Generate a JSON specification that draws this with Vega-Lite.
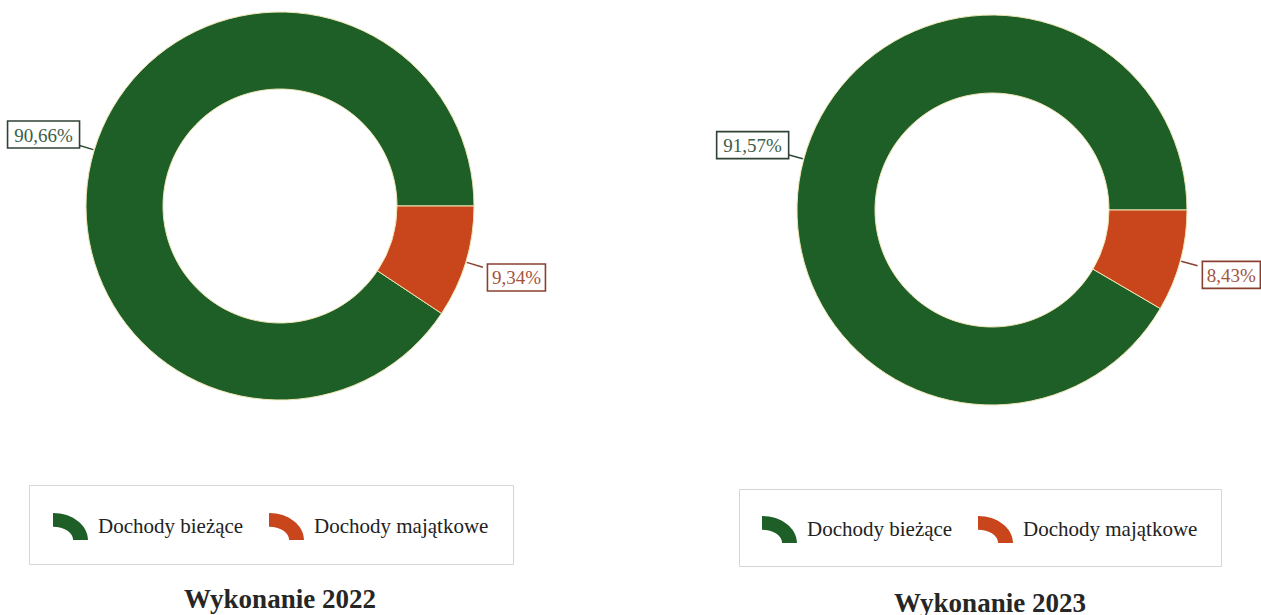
{
  "$schema": "https://vega.github.io/schema/vega-lite/v6.json",
  "padding": 0,
  "background": "white",
  "bounds": "flush",
  "spacing": 163,
  "config": {"view": {"stroke": null}, "font": "Liberation Serif"},
  "resolve": {
    "scale": {"color": "independent", "x": "independent", "y": "independent", "theta": "independent"},
    "legend": {"color": "independent"}
  },
  "hconcat": [
    {
      "width": 560,
      "height": 412,
      "title": {"text": "Wykonanie 2022", "orient": "bottom", "frame": "group", "anchor": "middle", "offset": 22, "baseline": "top", "font": "Liberation Serif", "fontSize": 27, "fontWeight": "bold", "color": "#262626"},
      "data": {"values": [
        {"kat": "Dochody bieżące", "val": 90.66, "label": "90,66%"},
        {"kat": "Dochody majątkowe", "val": 9.34, "label": "9,34%"}
      ]},
      "transform": [
        {"joinaggregate": [{"op": "sum", "field": "val", "as": "total"}]},
        {"window": [{"op": "sum", "field": "val", "as": "cum"}], "sort": [{"field": "kat", "order": "descending"}]},
        {"calculate": "PI/2 + 2*PI*(datum.cum - datum.val/2)/datum.total", "as": "mid"},
        {"calculate": "247*sin(datum.mid)", "as": "lx"},
        {"calculate": "247*cos(datum.mid)", "as": "ly"},
        {"calculate": "195*sin(datum.mid)", "as": "l0x"},
        {"calculate": "195*cos(datum.mid)", "as": "l0y"},
        {"calculate": "212*sin(datum.mid)", "as": "l1x"},
        {"calculate": "212*cos(datum.mid)", "as": "l1y"},
        {"calculate": "7*length(datum.label) - 6", "as": "hw"},
        {"calculate": "datum.lx - datum.hw", "as": "bx1"},
        {"calculate": "datum.lx + datum.hw", "as": "bx2"},
        {"calculate": "datum.ly - 13.5", "as": "by1"},
        {"calculate": "datum.ly + 13.5", "as": "by2"}
      ],
      "layer": [
        {
          "mark": {"type": "arc", "outerRadius": 194, "innerRadius": 117, "stroke": "#efe6b4", "strokeWidth": 1},
          "encoding": {
            "theta": {"field": "val", "type": "quantitative", "stack": true, "scale": {"range": [1.5707963, 7.8539816]}},
            "order": {"field": "kat", "type": "nominal", "sort": "descending"},
            "color": {
              "field": "kat", "type": "nominal",
              "scale": {"domain": ["Dochody bieżące", "Dochody majątkowe"], "range": ["#1e5f27", "#c9451b"]},
              "legend": {"orient": "none", "legendX": 29, "legendY": 485, "direction": "horizontal", "title": null,
                "symbolType": "M -1 -0.77 A 2 1.54 0 0 1 1 0.77 L 0.15 0.77 A 1.15 0.75 0 0 0 -1 0.02 Z",
                "symbolSize": 1225, "symbolStrokeWidth": 0, "symbolOpacity": 1,
                "labelFont": "Liberation Serif", "labelFontSize": 21, "labelColor": "#222222", "labelOffset": 10, "labelLimit": 400,
                "columnPadding": 25, "padding": 24, "strokeColor": "#d6d6d6", "fillColor": "white"}
            }
          }
        },
        {
          "mark": {"type": "rule", "strokeWidth": 1.5},
          "encoding": {
            "x": {"field": "l0x", "type": "quantitative", "scale": {"domain": [-280, 280], "nice": false, "zero": false}, "axis": null},
            "y": {"field": "l0y", "type": "quantitative", "scale": {"domain": [-206, 206], "nice": false, "zero": false}, "axis": null},
            "x2": {"field": "l1x"},
            "y2": {"field": "l1y"},
            "color": {"condition": {"test": "datum.kat === 'Dochody bieżące'", "value": "#2f4a36"}, "value": "#8a4030"}
          }
        },
        {
          "mark": {"type": "rect", "fill": "white", "strokeWidth": 1.6},
          "encoding": {
            "x": {"field": "bx1", "type": "quantitative"},
            "x2": {"field": "bx2"},
            "y": {"field": "by1", "type": "quantitative"},
            "y2": {"field": "by2"},
            "stroke": {"condition": {"test": "datum.kat === 'Dochody bieżące'", "value": "#2f4236"}, "value": "#8a4030"}
          }
        },
        {
          "mark": {"type": "text", "align": "center", "baseline": "middle", "font": "Liberation Serif", "fontSize": 19, "dy": 1},
          "encoding": {
            "x": {"field": "lx", "type": "quantitative"},
            "y": {"field": "ly", "type": "quantitative"},
            "text": {"field": "label", "type": "nominal"},
            "color": {"condition": {"test": "datum.kat === 'Dochody bieżące'", "value": "#3d5e48"}, "value": "#a4533c"}
          }
        }
      ]
    },
    {
      "width": 538,
      "height": 420,
      "title": {"text": "Wykonanie 2023", "orient": "bottom", "frame": "group", "anchor": "middle", "offset": 24, "baseline": "top", "font": "Liberation Serif", "fontSize": 27, "fontWeight": "bold", "color": "#262626", "dx": -2},
      "data": {"values": [
        {"kat": "Dochody bieżące", "val": 91.57, "label": "91,57%"},
        {"kat": "Dochody majątkowe", "val": 8.43, "label": "8,43%"}
      ]},
      "transform": [
        {"joinaggregate": [{"op": "sum", "field": "val", "as": "total"}]},
        {"window": [{"op": "sum", "field": "val", "as": "cum"}], "sort": [{"field": "kat", "order": "descending"}]},
        {"calculate": "PI/2 + 2*PI*(datum.cum - datum.val/2)/datum.total", "as": "mid"},
        {"calculate": "248*sin(datum.mid)", "as": "lx"},
        {"calculate": "248*cos(datum.mid)", "as": "ly"},
        {"calculate": "196*sin(datum.mid)", "as": "l0x"},
        {"calculate": "196*cos(datum.mid)", "as": "l0y"},
        {"calculate": "213*sin(datum.mid)", "as": "l1x"},
        {"calculate": "213*cos(datum.mid)", "as": "l1y"},
        {"calculate": "7*length(datum.label) - 6", "as": "hw"},
        {"calculate": "datum.lx - datum.hw", "as": "bx1"},
        {"calculate": "datum.lx + datum.hw", "as": "bx2"},
        {"calculate": "datum.ly - 13.5", "as": "by1"},
        {"calculate": "datum.ly + 13.5", "as": "by2"}
      ],
      "layer": [
        {
          "mark": {"type": "arc", "outerRadius": 195, "innerRadius": 117, "stroke": "#efe6b4", "strokeWidth": 1},
          "encoding": {
            "theta": {"field": "val", "type": "quantitative", "stack": true, "scale": {"range": [1.5707963, 7.8539816]}},
            "order": {"field": "kat", "type": "nominal", "sort": "descending"},
            "color": {
              "field": "kat", "type": "nominal",
              "scale": {"domain": ["Dochody bieżące", "Dochody majątkowe"], "range": ["#1e5f27", "#c9451b"]},
              "legend": {"orient": "none", "legendX": 16, "legendY": 489, "direction": "horizontal", "title": null,
                "symbolType": "M -1 -0.77 A 2 1.54 0 0 1 1 0.77 L 0.15 0.77 A 1.15 0.75 0 0 0 -1 0.02 Z",
                "symbolSize": 1225, "symbolStrokeWidth": 0, "symbolOpacity": 1,
                "labelFont": "Liberation Serif", "labelFontSize": 21, "labelColor": "#222222", "labelOffset": 10, "labelLimit": 400,
                "columnPadding": 25, "padding": 23, "strokeColor": "#d6d6d6", "fillColor": "white"}
            }
          }
        },
        {
          "mark": {"type": "rule", "strokeWidth": 1.5},
          "encoding": {
            "x": {"field": "l0x", "type": "quantitative", "scale": {"domain": [-269, 269], "nice": false, "zero": false}, "axis": null},
            "y": {"field": "l0y", "type": "quantitative", "scale": {"domain": [-210, 210], "nice": false, "zero": false}, "axis": null},
            "x2": {"field": "l1x"},
            "y2": {"field": "l1y"},
            "color": {"condition": {"test": "datum.kat === 'Dochody bieżące'", "value": "#2f4a36"}, "value": "#8a4030"}
          }
        },
        {
          "mark": {"type": "rect", "fill": "white", "strokeWidth": 1.6},
          "encoding": {
            "x": {"field": "bx1", "type": "quantitative"},
            "x2": {"field": "bx2"},
            "y": {"field": "by1", "type": "quantitative"},
            "y2": {"field": "by2"},
            "stroke": {"condition": {"test": "datum.kat === 'Dochody bieżące'", "value": "#2f4236"}, "value": "#8a4030"}
          }
        },
        {
          "mark": {"type": "text", "align": "center", "baseline": "middle", "font": "Liberation Serif", "fontSize": 19, "dy": 1},
          "encoding": {
            "x": {"field": "lx", "type": "quantitative"},
            "y": {"field": "ly", "type": "quantitative"},
            "text": {"field": "label", "type": "nominal"},
            "color": {"condition": {"test": "datum.kat === 'Dochody bieżące'", "value": "#3d5e48"}, "value": "#a4533c"}
          }
        }
      ]
    }
  ]
}
